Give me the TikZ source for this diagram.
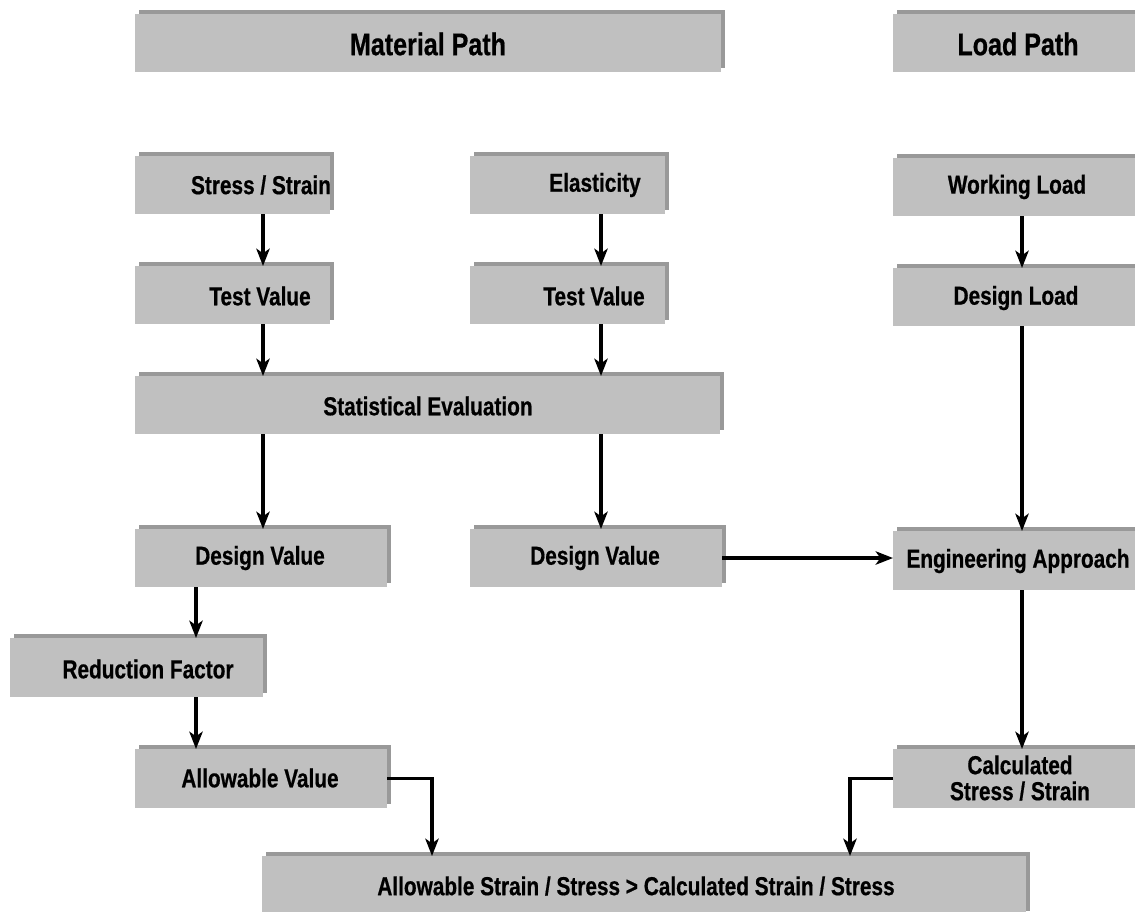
\documentclass[tikz,border=0pt]{standalone}
\usepackage{fontspec}
\setmainfont{Liberation Sans}[FakeStretch=0.8,BoldFeatures={FakeBold=0.6}]
\usetikzlibrary{arrows.meta,shadows,fit}
\definecolor{boxgray}{HTML}{C0C0C0}
\definecolor{shadowgray}{HTML}{999999}
\begin{document}
\begin{tikzpicture}[x=0.75pt,y=-0.75pt,
  box/.style={fill=boxgray,draw=none,inner sep=0pt,outer sep=0pt,
    drop shadow={shadow xshift=3pt,shadow yshift=3pt,fill=shadowgray,opacity=1}},
  lbl/.style={inner sep=0pt,font=\fontsize{19.5}{19.5}\selectfont\bfseries,align=center},
  ttl/.style={inner sep=0pt,font=\fontsize{23.5}{24}\selectfont\bfseries},
  arr/.style={line width=2.4pt,-{Stealth[length=13pt,width=10pt,inset=3.5pt]}},
  ln/.style={line width=2.4pt}]
\useasboundingbox (0,0) rectangle (1135,911);
% boxes
\node[box,fit={(135,14) (721,72)}] (mp) {};
\node[box,fit={(893,14) (1145,72)}] (lp) {};
\node[box,fit={(135,156) (330,214)}] (ss) {};
\node[box,fit={(470,156) (665,214)}] (el) {};
\node[box,fit={(893,158) (1145,216)}] (wl) {};
\node[box,fit={(135,266) (330,324)}] (tv1) {};
\node[box,fit={(470,266) (665,324)}] (tv2) {};
\node[box,fit={(893,268) (1145,326)}] (dl) {};
\node[box,fit={(135,376) (720,434)}] (se) {};
\node[box,fit={(135,529) (387,587)}] (dv1) {};
\node[box,fit={(470,529) (722,587)}] (dv2) {};
\node[box,fit={(893,531) (1145,590)}] (ea) {};
\node[box,fit={(10,638) (263,697)}] (rf) {};
\node[box,fit={(135,749) (387,808)}] (av) {};
\node[box,fit={(893,749) (1145,808)}] (cs) {};
\node[box,fit={(262,856) (1026,915)}] (bt) {};
% labels
\node[ttl] (mpt) at (428,44) {Material Path};
\node[ttl] (lpt) at (1018,44) {Load Path};
\node[lbl] (sst) at (261,185) {Stress / Strain};
\node[lbl] (elt) at (595,185) {Elasticity};
\node[lbl] (wlt) at (1017,187) {Working Load};
\node[lbl] (tv1t) at (260,296) {Test Value};
\node[lbl] (tv2t) at (594,296) {Test Value};
\node[lbl] (dlt) at (1016,298) {Design Load};
\node[lbl] (set) at (428,406) {Statistical Evaluation};
\node[lbl] (dv1t) at (260,558) {Design Value};
\node[lbl] (dv2t) at (595,558) {Design Value};
\node[lbl] (eat) at (1018,561) {Engineering Approach};
\node[lbl] (rft) at (148,669) {Reduction Factor};
\node[lbl] (avt) at (260,778) {Allowable Value};
\node[lbl] (cst) at (1020,778) {Calculated\\Stress / Strain};
\node[lbl] (btt) at (636,886) {Allowable Strain / Stress > Calculated Strain / Stress};
% column coordinates
\coordinate (cl) at (263,0);
\coordinate (cm) at (601,0);
\coordinate (cr) at (1022,0);
\coordinate (cf) at (196,0);
\coordinate (ja) at (432,0);
\coordinate (jc) at (850,0);
% connectors
\draw[arr] (ss.south -| cl) -- (tv1.north -| cl);
\draw[arr] (tv1.south -| cl) -- (se.north -| cl);
\draw[arr] (se.south -| cl) -- (dv1.north -| cl);
\draw[arr] (el.south -| cm) -- (tv2.north -| cm);
\draw[arr] (tv2.south -| cm) -- (se.north -| cm);
\draw[arr] (se.south -| cm) -- (dv2.north -| cm);
\draw[arr] (wl.south -| cr) -- (dl.north -| cr);
\draw[arr] (dl.south -| cr) -- (ea.north -| cr);
\draw[arr] (ea.south -| cr) -- (cs.north -| cr);
\draw[arr] (dv1.south -| cf) -- (rf.north -| cf);
\draw[arr] (rf.south -| cf) -- (av.north -| cf);
\draw[arr] (dv2.east) -- (ea.west |- dv2.east);
\draw[arr] (av.east) -| (bt.north -| ja);
\draw[arr] (cs.west) -| (bt.north -| jc);
\end{tikzpicture}
\end{document}
